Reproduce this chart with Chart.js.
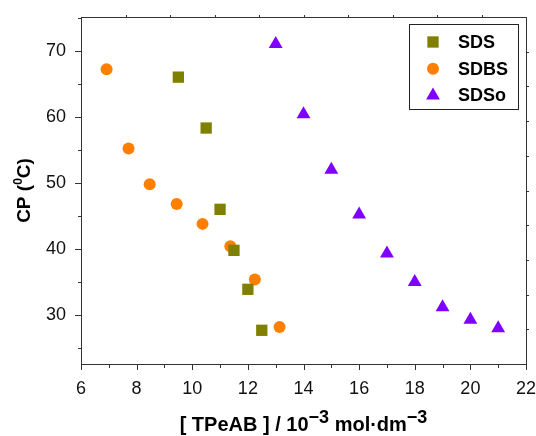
<!DOCTYPE html>
<html>
<head>
<meta charset="utf-8">
<script src="https://cdn.jsdelivr.net/npm/chart.js@4"></script>
<style>
  html, body { margin: 0; padding: 0; background: #fff; }
  #wrap { width: 536px; height: 436px; }
</style>
</head>
<body>
<div id="wrap"><canvas id="cpChart" width="536" height="436"></canvas></div>
<script>
// data
const sdsX = [9.5, 10.5, 11, 11.5, 12, 12.5];
const sdsY = [66.0, 58.3, 46.0, 39.8, 33.9, 27.7];
const sdbsX = [6.92, 7.71, 8.47, 9.44, 10.37, 11.37, 12.25, 13.14];
const sdbsY = [67.2, 55.2, 49.8, 46.8, 43.8, 40.4, 35.4, 28.2];
const sdsoX = [13, 14, 15, 16, 17, 18, 19, 20, 21];
const sdsoY = [71.0, 60.4, 52.0, 45.2, 39.3, 35.0, 31.2, 29.3, 28.0];
const seriesNames = ['SDS', 'SDBS', 'SDSo'];
const xTicks = [6, 8, 10, 12, 14, 16, 18, 20, 22];
const yTicks = [30, 40, 50, 60, 70];

const colors = ['#808000', '#ff8000', '#8000ff'];
const styles = ['rect', 'circle', 'triangle'];
const radii = [8, 6, 8];

function toPoints(xs, ys) {
    return xs.map((x, i) => ({ x: x, y: ys[i] }));
}

const frame = {
    id: 'frame',
    afterDraw(chart) {
        const ctx = chart.ctx;
        const a = chart.chartArea;
        const xs = chart.scales.x;
        const ys = chart.scales.y;
        ctx.save();
        ctx.strokeStyle = '#333';
        ctx.lineWidth = 1;
        ctx.strokeRect(a.left + 0.5, a.top + 0.5, a.right - a.left, a.bottom - a.top);

        ctx.beginPath();
        // bottom ticks, major on even, minor on odd
        for (let v = xs.min; v <= xs.max; v++) {
            const px = Math.round(xs.getPixelForValue(v)) + 0.5;
            const len = v % 2 === 0 ? 6 : 4;
            ctx.moveTo(px, a.bottom);
            ctx.lineTo(px, a.bottom + len);
        }
        // left ticks
        for (let v = 25; v <= ys.max; v += 5) {
            const py = Math.round(ys.getPixelForValue(v)) + 0.5;
            const len = v % 10 === 0 ? 6 : 3;
            ctx.moveTo(a.left, py);
            ctx.lineTo(a.left - len, py);
        }
        // top and right small ticks
        for (let i = 1; i < 10; i++) {
            const px = Math.round(a.left + (a.right - a.left) * i / 10) + 0.5;
            ctx.moveTo(px, a.top);
            ctx.lineTo(px, a.top - 2);
            const py = Math.round(a.top + (a.bottom - a.top) * i / 10) + 0.5;
            ctx.moveTo(a.right, py);
            ctx.lineTo(a.right + 3, py);
        }
        ctx.stroke();

        // legend box
        const lx = 409, ly = 24, lw = 109, lh = 85;
        ctx.fillStyle = '#fff';
        ctx.fillRect(lx, ly, lw, lh);
        ctx.strokeStyle = '#222';
        ctx.strokeRect(lx + 0.5, ly + 0.5, lw, lh);
        seriesNames.forEach((name, i) => {
            const cy = ly + 18 + i * 26.7;
            ctx.fillStyle = colors[i];
            ctx.strokeStyle = colors[i];
            Chart.helpers.drawPoint(ctx, { pointStyle: styles[i], radius: radii[i], borderWidth: 0 }, lx + 24, cy);
            ctx.fillStyle = '#000';
            ctx.font = 'bold 18px "Liberation Sans", Arial, sans-serif';
            ctx.textBaseline = 'middle';
            ctx.textAlign = 'left';
            ctx.fillText(name, lx + 49, cy + 1);
        });

        // x title with superscripts
        ctx.fillStyle = '#000';
        ctx.textBaseline = 'alphabetic';
        const big = 'bold 20px "Liberation Sans", Arial, sans-serif';
        const sup = 'bold 18px "Liberation Sans", Arial, sans-serif';
        const parts = [
            ['[ TPeAB ] / 10', big, 0],
            ['\u22123', sup, -8],
            [' mol\u00b7dm', big, 0],
            ['\u22123', sup, -8]
        ];
        let total = 0;
        parts.forEach(p => { ctx.font = p[1]; total += ctx.measureText(p[0]).width; });
        let x0 = (a.left + a.right) / 2 - total / 2;
        parts.forEach(p => {
            ctx.font = p[1];
            ctx.fillText(p[0], x0, 431 + p[2]);
            x0 += ctx.measureText(p[0]).width;
        });

        // y title, rotated
        const ybig = 'bold 19px "Liberation Sans", Arial, sans-serif';
        ctx.translate(30, (a.top + a.bottom) / 2);
        ctx.rotate(-Math.PI / 2);
        const yparts = [
            ['CP (', ybig, 0],
            ['0', 'bold 12px "Liberation Sans", Arial, sans-serif', -8],
            ['C)', ybig, 0]
        ];
        total = 0;
        yparts.forEach(p => { ctx.font = p[1]; total += ctx.measureText(p[0]).width; });
        x0 = -total / 2;
        yparts.forEach(p => {
            ctx.font = p[1];
            ctx.fillText(p[0], x0, p[2]);
            x0 += ctx.measureText(p[0]).width;
        });
        ctx.restore();
    }
};

const datasets = [sdsX, sdbsX, sdsoX].map((xs, i) => ({
    label: seriesNames[i],
    data: toPoints(xs, [sdsY, sdbsY, sdsoY][i]),
    pointStyle: styles[i],
    pointRadius: radii[i],
    pointHoverRadius: radii[i],
    pointBorderWidth: 0,
    backgroundColor: colors[i],
    borderColor: colors[i],
    showLine: false
}));

const tickFont = { family: '"Liberation Sans", Arial, sans-serif', size: 18 };

new Chart(document.getElementById('cpChart').getContext('2d'), {
    type: 'scatter',
    data: { datasets: datasets },
    options: {
        responsive: false,
        animation: false,
        layout: { padding: { left: 0, right: 10, top: 17, bottom: 0 } },
        plugins: { legend: { display: false }, tooltip: { enabled: false } },
        scales: {
            x: {
                type: 'linear',
                min: 6,
                max: 22,
                afterBuildTicks: (s) => { s.ticks = xTicks.map(v => ({ value: v })); },
                ticks: { font: tickFont, color: '#111', padding: 14, maxRotation: 0 },
                grid: { display: false, drawTicks: false },
                border: { display: false },
                afterFit: (s) => { s.height = 72; s.paddingLeft = 0; s.paddingRight = 0; }
            },
            y: {
                min: 22.6,
                max: 75.1,
                afterBuildTicks: (s) => { s.ticks = yTicks.map(v => ({ value: v })); },
                ticks: { font: tickFont, color: '#111', padding: 15 },
                grid: { display: false, drawTicks: false },
                border: { display: false },
                afterFit: (s) => { s.width = 81; s.paddingTop = 0; s.paddingBottom = 0; }
            }
        }
    },
    plugins: [frame]
});
</script>
</body>
</html>
